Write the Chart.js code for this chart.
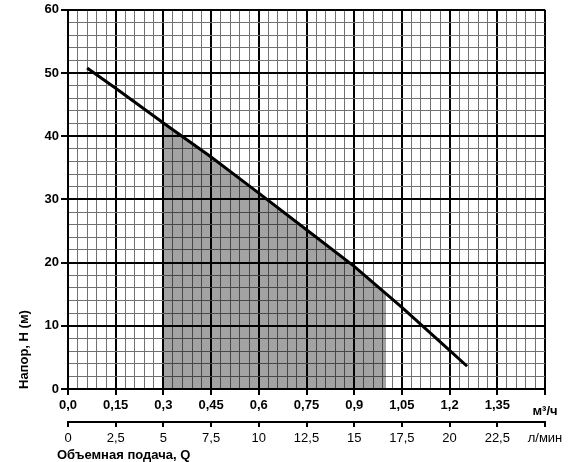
<!DOCTYPE html>
<html>
<head>
<meta charset="utf-8">
<script src="https://cdn.jsdelivr.net/npm/chart.js@4.4.1/dist/chart.umd.min.js"></script>
<style>
  html, body { margin: 0; padding: 0; background: #fff; }
  #wrap { width: 570px; height: 462px; position: relative; }
</style>
</head>
<body>
<div id="wrap"><canvas id="c"></canvas></div>
<script>
// ---- data ----
const flowM3h = [0.06, 0.15, 0.30, 0.45, 0.60, 0.75, 0.90, 1.05, 1.20, 1.255];
const headM   = [50.8, 47.6, 42.1, 36.7, 31.0, 25.2, 19.4, 12.9, 6.1, 3.6];

const workFlowM3h = [0.30, 0.45, 0.60, 0.75, 0.90, 1.00];
const workHeadM   = [42.1, 36.7, 31.0, 25.2, 19.4, 15.1];

const qTicksM3h   = [0, 0.15, 0.3, 0.45, 0.6, 0.75, 0.9, 1.05, 1.2, 1.35, 1.5];
const qTickLabels = ['0,0', '0,15', '0,3', '0,45', '0,6', '0,75', '0,9', '1,05', '1,2', '1,35', 'м³/ч'];

const qTicksLmin   = [0, 2.5, 5, 7.5, 10, 12.5, 15, 17.5, 20, 22.5, 25];
const qTickLabelsL = ['0', '2,5', '5', '7,5', '10', '12,5', '15', '17,5', '20', '22,5', 'л/мин'];

const hTicks      = [0, 10, 20, 30, 40, 50, 60];
const hTickLabels = ['0', '10', '20', '30', '40', '50', '60'];

const yTitle = 'Напор, Н (м)';
const xTitle = 'Объемная подача, Q';

// ---- helpers ----
const FAMILY = '"Liberation Sans", Arial, sans-serif';
function findIdx(arr, v) {
  for (let i = 0; i < arr.length; i++) if (Math.abs(arr[i] - v) < 1e-6) return i;
  return -1;
}
function isMajorX(v) { return findIdx(qTicksM3h, v) >= 0; }
function isMajorY(v) { return findIdx(hTicks, v) >= 0; }
const MINOR = '#707070';

const curve = flowM3h.map((q, i) => ({ x: q, y: headM[i] }));
const work  = workFlowM3h.map((q, i) => ({ x: q, y: workHeadM[i] }));

const xTitlePlugin = {
  id: 'xTitle',
  afterDraw(chart) {
    const ctx = chart.ctx;
    ctx.save();
    ctx.font = 'bold 13px ' + FAMILY;
    ctx.fillStyle = '#000';
    ctx.textAlign = 'left';
    ctx.textBaseline = 'middle';
    ctx.fillText(xTitle, 57, 455);
    ctx.restore();
  }
};

new Chart(document.getElementById('c'), {
  type: 'scatter',
  data: {
    datasets: [
      {
        data: curve,
        showLine: true,
        borderColor: '#000',
        borderWidth: 3,
        pointRadius: 0,
        fill: false,
        tension: 0,
        order: 0
      },
      {
        data: work,
        showLine: true,
        borderWidth: 0,
        borderColor: 'rgba(0,0,0,0)',
        backgroundColor: 'rgba(0,0,0,0.36)',
        pointRadius: 0,
        fill: 'origin',
        tension: 0,
        order: 1
      }
    ]
  },
  options: {
    responsive: true,
    maintainAspectRatio: false,
    animation: false,
    devicePixelRatio: 1,
    layout: { padding: { left: 0, right: 25, top: 0, bottom: 0 } },
    plugins: { legend: { display: false }, tooltip: { enabled: false }, title: { display: false } },
    scales: {
      x: {
        type: 'linear',
        position: 'bottom',
        weight: 0,
        min: 0, max: 1.5,
        afterFit(s) { s.height = 33; },
        border: { display: true, color: '#000', width: 2 },
        grid: {
          color: c => isMajorX(c.tick.value) ? '#000' : MINOR,
          lineWidth: c => isMajorX(c.tick.value) ? 2 : 1,
          tickColor: c => isMajorX(c.tick.value) ? '#000' : 'rgba(0,0,0,0)',
          tickWidth: 2,
          tickLength: 6
        },
        ticks: {
          stepSize: 0.03,
          autoSkip: false,
          maxRotation: 0,
          padding: 3,
          color: '#000',
          font: c => (c.tick && Math.abs(c.tick.value - 1.5) < 1e-6)
            ? { family: FAMILY, size: 13, weight: 'bold', lineHeight: 2.1 }
            : { family: FAMILY, size: 13, weight: 'bold' },
          callback: v => { const i = findIdx(qTicksM3h, v); return i >= 0 ? qTickLabels[i] : ''; }
        }
      },
      x2: {
        type: 'linear',
        position: 'bottom',
        weight: 1,
        min: 0, max: 25,
        afterFit(s) { s.height = 40; },
        border: { display: true, color: '#000', width: 2 },
        grid: {
          drawOnChartArea: false,
          drawTicks: true,
          color: '#000',
          tickColor: '#000',
          tickWidth: 2,
          lineWidth: 2,
          tickLength: 5
        },
        ticks: {
          stepSize: 2.5,
          autoSkip: false,
          maxRotation: 0,
          padding: 4,
          color: '#000',
          font: { family: FAMILY, size: 13, weight: 'normal' },
          callback: v => { const i = findIdx(qTicksLmin, v); return i >= 0 ? qTickLabelsL[i] : ''; }
        }
      },
      y: {
        type: 'linear',
        position: 'left',
        min: 0, max: 60,
        afterFit(s) { s.width = 68; },
        border: { display: true, color: '#000', width: 2 },
        grid: {
          color: c => isMajorY(c.tick.value) ? '#000' : MINOR,
          lineWidth: c => isMajorY(c.tick.value) ? 2 : 1,
          tickColor: c => isMajorY(c.tick.value) ? '#000' : 'rgba(0,0,0,0)',
          tickWidth: 2,
          tickLength: 7
        },
        ticks: {
          stepSize: 2,
          autoSkip: false,
          padding: 2,
          color: '#000',
          font: { family: FAMILY, size: 13, weight: 'bold' },
          callback: v => { const i = findIdx(hTicks, v); return i >= 0 ? hTickLabels[i] : ''; }
        },
        title: {
          display: true,
          text: yTitle,
          align: 'start',
          color: '#000',
          font: { family: FAMILY, size: 13, weight: 'bold' },
          padding: { top: 17, bottom: 0 }
        }
      }
    }
  },
  plugins: [xTitlePlugin]
});
</script>
</body>
</html>
